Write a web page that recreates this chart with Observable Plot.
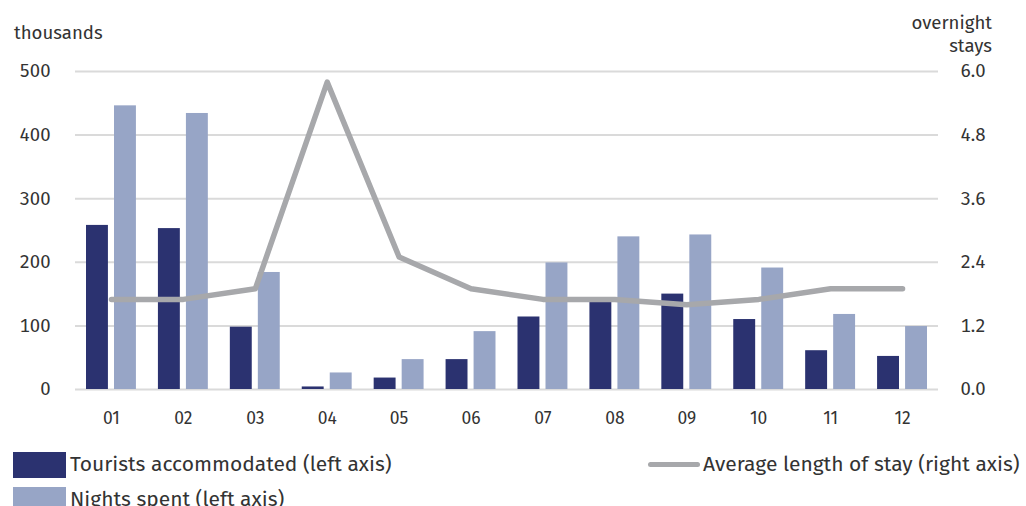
<!DOCTYPE html>
<html>
<head>
<meta charset="utf-8">
<script src="https://cdn.jsdelivr.net/npm/d3@7"></script>
<script src="https://cdn.jsdelivr.net/npm/@observablehq/plot@0.6"></script>
<style>
  html, body { margin: 0; padding: 0; background: #fff; }
  #wrap { position: relative; width: 1026px; height: 506px; overflow: hidden; font-family: "Fira Sans", "Noto Sans", "Open Sans", sans-serif; color: #333; }
  .lbl { position: absolute; font-size: 18.6px; line-height: 1; white-space: nowrap; }
  .leg { position: absolute; font-size: 21px; line-height: 1; white-space: nowrap; display: flex; align-items: center; height: 27px; }
  .sw { display: inline-block; width: 53px; height: 26px; margin-right: 4px; }
  .ln { display: inline-block; width: 52px; height: 5px; border-radius: 3px; background: #a7a8ab; margin-right: 3px; }
</style>
</head>
<body>
<div id="wrap"></div>
<script>
const months = ["01","02","03","04","05","06","07","08","09","10","11","12"];
const tourists = [258, 253, 98, 4, 18, 47, 114, 140, 150, 110, 61, 52];
const nights = [446, 434, 184, 26, 47, 91, 199, 240, 243, 191, 118, 99];
const avgStay = [1.7, 1.7, 1.9, 5.8, 2.5, 1.9, 1.7, 1.7, 1.6, 1.7, 1.9, 1.9];
const leftTicks = [0, 100, 200, 300, 400, 500];
const rightMax = 6;
const leftMax = 500;
const ratio = leftMax / rightMax;

const navy = "#2b3270";
const light = "#97a5c6";
const grey = "#a7a8ab";

const chart = Plot.plot({
  width: 1026,
  height: 445,
  marginLeft: 75,
  marginRight: 88,
  marginTop: 71,
  marginBottom: 56,
  style: { fontFamily: "'Fira Sans', 'Noto Sans', 'Open Sans', sans-serif", fontSize: "18px", color: "#333", background: "transparent" },
  x: { domain: months, padding: 0, round: false, axis: null },
  y: { domain: [0, leftMax], axis: null },
  marks: [
    Plot.gridY(leftTicks, { stroke: "#dadada", strokeOpacity: 1, strokeWidth: 2 }),
    Plot.axisY(leftTicks, { anchor: "left", tickSize: 0, tickPadding: 25, fontSize: 18.5 }),
    Plot.axisY(leftTicks, { anchor: "right", tickSize: 0, tickPadding: 22, fontSize: 18.5, tickFormat: d => (d / ratio).toFixed(1) }),
    Plot.axisX(months, { anchor: "bottom", tickSize: 0, tickPadding: 22, fontSize: 17.5 }),
    Plot.barY(months, { x: d => d, y: (d, i) => tourists[i], fill: navy, dx: -14, insetLeft: 25, insetRight: 25 }),
    Plot.barY(months, { x: d => d, y: (d, i) => nights[i], fill: light, dx: 14, insetLeft: 25, insetRight: 25 }),
    Plot.line(months, { x: d => d, y: (d, i) => avgStay[i] * ratio, stroke: grey, strokeWidth: 5.5, strokeLinecap: "round", strokeLinejoin: "round" })
  ]
});

const wrap = document.getElementById("wrap");
chart.style.position = "absolute";
chart.style.left = "0px";
chart.style.top = "0px";
wrap.appendChild(chart);

function add(cls, html, css) {
  const d = document.createElement("div");
  d.className = cls;
  d.innerHTML = html;
  Object.assign(d.style, css);
  wrap.appendChild(d);
  return d;
}
add("lbl", "thousands", { left: "14px", top: "24px" });
add("lbl", "overnight<br>stays", { right: "34px", top: "12px", textAlign: "right", lineHeight: "23px" });
add("leg", `<span class="sw" style="background:${navy}"></span>Tourists accommodated (left axis)`, { left: "13px", top: "451px" });
add("leg", `<span class="sw" style="background:${light}"></span>Nights spent (left axis)`, { left: "13px", top: "486px" });
add("leg", `<span class="ln"></span>Average length of stay (right axis)`, { left: "648px", top: "451px" });
</script>
</body>
</html>
